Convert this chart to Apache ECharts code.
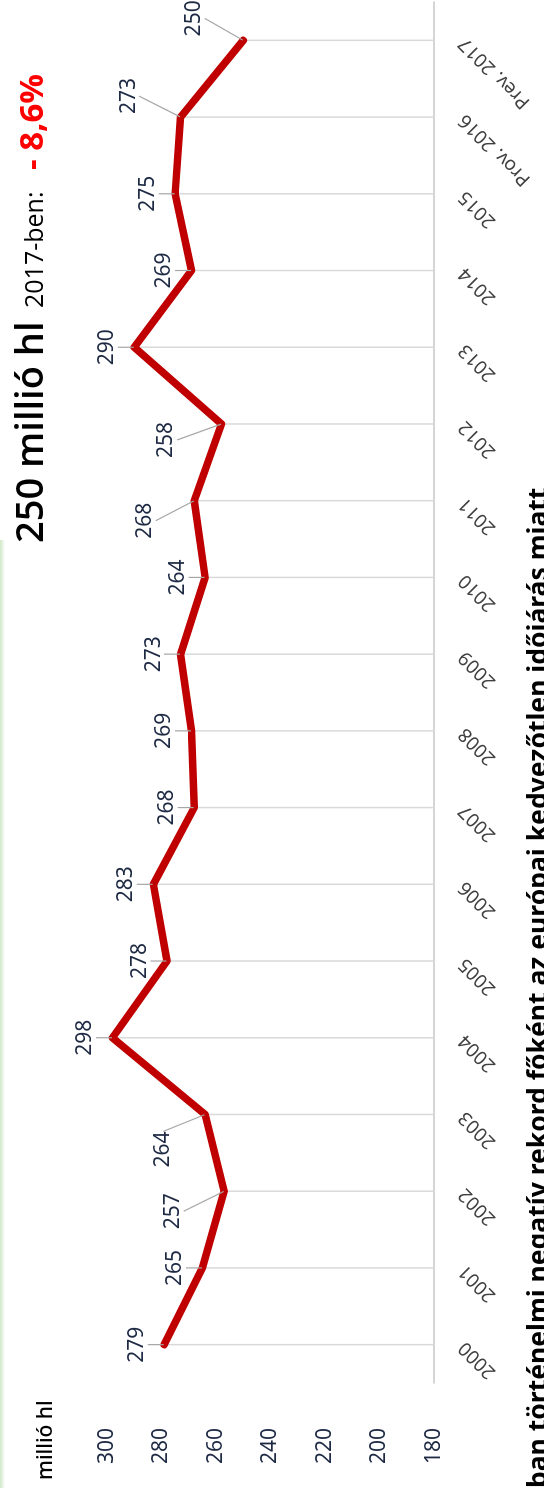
<!DOCTYPE html>
<html>
<head>
<meta charset="utf-8">
<script src="https://cdn.jsdelivr.net/npm/echarts@6/dist/echarts.min.js"></script>
<style>
html,body{margin:0;padding:0;width:544px;height:1488px;overflow:hidden;background:#ffffff;}
#chart{position:absolute;left:0;top:0;width:1488px;height:544px;transform-origin:0 0;transform:translateY(1488px) rotate(-90deg);}
</style>
</head>
<body>
<div id="chart"></div>
<script>
// ---- data ----
const categories = ['2000','2001','2002','2003','2004','2005','2006','2007','2008','2009','2010','2011','2012','2013','2014','2015','Prov. 2016','Prev. 2017'];
const production = [279,265,257,264,298,278,283,268,269,273,264,268,258,290,269,275,273,250];
const valueAxisMin = 180;
const valueAxisMax = 300;
const valueAxisStep = 20;
const unitLabel = 'millió hl';
const headlineMain = '250 millió hl';
const headlineSub = '2017-ben:';
const headlineChange = '- 8,6%';
const footnote = 'ban történelmi negatív rekord főként az európai kedvezőtlen időjárás miatt';

// label offsets (layout only) for labels moved with a leader line: dataIndex -> [dx, dy]
const labelShift = {2:[-20,-24], 3:[-35,-15], 11:[-20,-22], 12:[-16,-28], 16:[21,-25], 17:[22,-22]};

const chart = echarts.init(document.getElementById('chart'), null, {renderer:'canvas', width:1488, height:544});

const option = {
  animation: false,
  backgroundColor: '#ffffff',
  grid: {left:105, right:2, top:107, bottom:110, containLabel:false},
  xAxis: {
    type:'category',
    data: categories,
    boundaryGap: true,
    axisLine: {show:true, lineStyle:{color:'#c8c8c8', width:1.5}},
    axisTick: {show:false},
    splitLine: {show:false},
    axisLabel: {rotate:45, margin:28, fontSize:19, color:'#404040', fontFamily:'Noto Sans', interval:0}
  },
  yAxis: {
    type:'value',
    min: valueAxisMin, max: valueAxisMax, interval: valueAxisStep,
    axisLine:{show:false}, axisTick:{show:false}, splitLine:{show:false},
    axisLabel:{fontSize:21, color:'#1e2a44', margin:45, fontFamily:'Noto Sans'}
  },
  series: [
    {
      type:'custom',
      silent:true,
      z:1,
      data: production.map((v,i)=>[i,v]),
      renderItem: function(params, api){
        const top = api.coord([api.value(0), api.value(1)]);
        const base = api.coord([api.value(0), valueAxisMin]);
        return {type:'line', shape:{x1:top[0], y1:top[1], x2:base[0], y2:base[1]}, style:{stroke:'#d9d9d9', lineWidth:1.5}};
      }
    },
    {
      type:'line',
      z:3,
      data: production,
      showSymbol:true,
      symbol:'circle',
      symbolSize:1,
      itemStyle:{color:'#c00000'},
      lineStyle:{color:'#c00000', width:7.5, cap:'round', join:'round'},
      label:{show:true, position:'top', distance:16, fontSize:21, color:'#1e2a44', fontFamily:'Noto Sans'},
      labelLine:{show:true, lineStyle:{color:'#a6a6a6', width:1.2}},
      labelLayout: function(params){
        const s = labelShift[params.dataIndex];
        if (!s) return {};
        const r = params.labelRect;
        return {x: r.x + r.width/2 + s[0], y: r.y + r.height/2 + s[1], align:'center', verticalAlign:'middle'};
      }
    }
  ],
  graphic: [
    {type:'rect', left:0, top:0, z:-1, shape:{width:948, height:5},
     style:{fill:new echarts.graphic.LinearGradient(0,0,0,1,[{offset:0,color:'#cfe8c6'},{offset:1,color:'#ffffff'}])}},
    {type:'text', left:8, top:36, style:{text:unitLabel, fontSize:21, fontWeight:500, fontFamily:'Noto Sans', fill:'#000000'}},
    {type:'text', x:945, y:51, style:{text:headlineMain, fontSize:38, fontWeight:600, fontFamily:'Open Sans', fill:'#000000', verticalAlign:'bottom'}},
    {type:'text', x:1180, y:48, style:{text:headlineSub, fontSize:25, fontFamily:'Open Sans', fill:'#000000', verticalAlign:'bottom'}},
    {type:'text', x:1318, y:50, style:{text:headlineChange, fontSize:33, fontWeight:'bold', fontFamily:'Open Sans', fill:'#ff0000', verticalAlign:'bottom'}},
    {type:'text', x:0, y:526, style:{text:footnote, fontSize:26.5, fontWeight:'bold', fontFamily:'Noto Sans', fill:'#000000', verticalAlign:'top'}}
  ]
};
chart.setOption(option);
</script>
</body>
</html>
